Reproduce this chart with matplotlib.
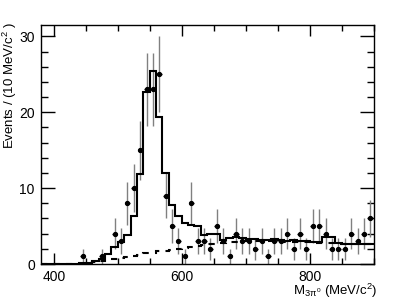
import numpy as np
import matplotlib
matplotlib.use("Agg")
import matplotlib.pyplot as plt
from matplotlib.ticker import MultipleLocator

plt.rcParams['font.family'] = ['Liberation Sans', 'DejaVu Sans']
plt.rcParams['mathtext.fontset'] = 'custom'
plt.rcParams['mathtext.rm'] = 'Liberation Sans'
plt.rcParams['mathtext.it'] = 'Liberation Sans'
plt.rcParams['mathtext.bf'] = 'Liberation Sans:bold'

# bin edges (MeV/c^2)
bin_edges = np.arange(380, 901, 10)
bin_centers = (bin_edges[:-1] + bin_edges[1:]) / 2

# observed counts per bin
counts = [0, 0, 0, 0, 0, 0, 1, 0, 0, 1,
          0, 4, 3, 8, 10, 15, 23, 23, 25, 9,
          5, 3, 1, 8, 3, 3, 2, 5, 3, 1,
          4, 3, 3, 2, 3, 1, 3, 3, 4, 2,
          4, 2, 5, 5, 4, 2, 2, 2, 4, 3,
          4, 6]

# total fit (solid histogram)
fit_total = [0.0, 0.0, 0.0, 0.0, 0.02, 0.05, 0.1, 0.15, 0.35, 0.6,
             1.3, 2.2, 2.9, 3.8, 6.3, 11.9, 22.7, 25.5, 19.4, 12.0,
             7.8, 6.3, 5.4, 5.2, 5.0, 3.8, 4.0, 4.0, 3.1, 3.4,
             3.5, 3.4, 3.3, 3.3, 3.2, 3.2, 3.3, 3.1, 3.0, 3.1,
             3.0, 3.0, 2.9, 2.9, 3.5, 3.5, 2.8, 2.7, 2.6, 2.6,
             2.6, 2.7]

# background component (dashed histogram)
fit_bkg = [0.0, 0.0, 0.0, 0.0, 0.0, 0.0, 0.02, 0.08, 0.2, 0.35,
           0.5, 0.65, 0.8, 0.95, 1.1, 1.25, 1.4, 1.5, 1.65, 1.75,
           1.9, 2.0, 2.15, 2.3, 2.4, 2.5, 2.6, 2.7, 2.8, 2.9,
           2.95, 3.0, 3.0, 3.0, 3.0, 3.0, 3.0, 2.95, 2.9, 2.9,
           2.9, 2.85, 2.8, 2.8, 2.8, 2.75, 2.7, 2.7, 2.65, 2.6,
           2.6, 2.6]

xlabels = [400, 600, 800]

fig = plt.figure(figsize=(4.15, 2.99), dpi=100)
W, H = 415, 299
ax = fig.add_axes([41 / W, 1 - 264 / H, (373.5 - 41) / W, (264 - 25) / H])

counts_a = np.array(counts, dtype=float)
m = counts_a > 0
x = bin_centers[m]
y = counts_a[m]
err = np.sqrt(y)

ax.errorbar(x, y, yerr=err, fmt='none', ecolor='#808080', elinewidth=1.0, zorder=2)
ax.errorbar(x, y, xerr=4, fmt='o', ms=2.8, color='black', ecolor='black',
            elinewidth=1.0, zorder=4)

ax.stairs(fit_total, bin_edges, baseline=None, color='black', lw=1.5, zorder=3)
ax.stairs(fit_bkg, bin_edges, baseline=None, color='black', lw=1.5,
          linestyle=(0, (3, 3)), zorder=3)

ax.set_xlim(380, 900)
ax.set_ylim(0, 31.5)
ax.set_xticks(xlabels)
ax.xaxis.set_minor_locator(MultipleLocator(50))
ax.yaxis.set_major_locator(MultipleLocator(10))
ax.yaxis.set_minor_locator(MultipleLocator(2))
ax.tick_params(which='both', direction='in', top=True, right=True, labelsize=10,
               width=1.0, color='black')
ax.tick_params(axis='x', which='major', length=8, pad=4)
ax.tick_params(axis='x', which='minor', length=4)
ax.tick_params(axis='y', which='major', length=10, pad=4.5)
ax.tick_params(axis='y', which='minor', length=5)
for s in ax.spines.values():
    s.set_linewidth(1.0)

fig.text(9.5 / W, 1 - 22 / H, r'Events / (10 MeV/c$^{2}$ )', rotation=90,
         ha='center', va='top', fontsize=9.5)
fig.text(377 / W, 1 - 295.5 / H, r'M$_{3\pi^{0}}$ (MeV/c$^{2}$)',
         ha='right', va='baseline', fontsize=9.5)

fig.savefig('out.png', dpi=100)
